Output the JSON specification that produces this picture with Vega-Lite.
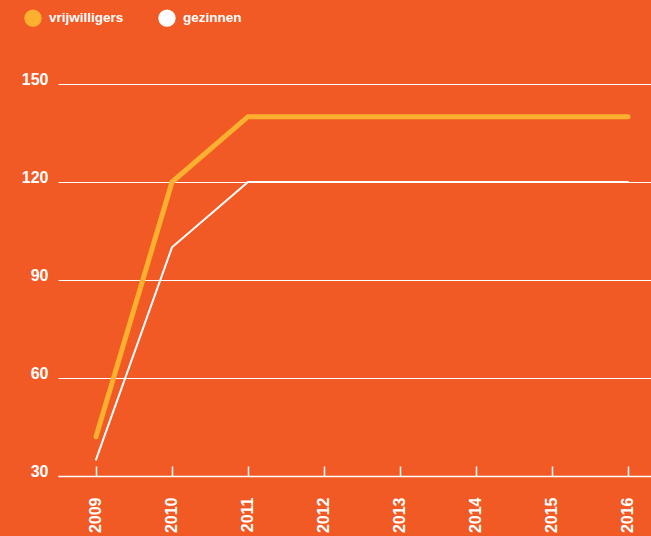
{
  "$schema": "https://vega.github.io/schema/vega-lite/v6.json",
  "width": 593,
  "height": 392,
  "autosize": "none",
  "padding": {"left": 58, "top": 84, "right": 0, "bottom": 60},
  "background": "#F15A24",
  "config": {
    "view": {"stroke": null},
    "font": "Liberation Sans",
    "axis": {"labelFont": "Liberation Sans", "labelColor": "#FFFFFF", "labelFontSize": 16, "labelFontWeight": "bold"}
  },
  "data": {
    "values": [
      {"year": 2009, "series": "gezinnen", "value": 35},
      {"year": 2010, "series": "gezinnen", "value": 100},
      {"year": 2011, "series": "gezinnen", "value": 120},
      {"year": 2012, "series": "gezinnen", "value": 120},
      {"year": 2013, "series": "gezinnen", "value": 120},
      {"year": 2014, "series": "gezinnen", "value": 120},
      {"year": 2015, "series": "gezinnen", "value": 120},
      {"year": 2016, "series": "gezinnen", "value": 120},
      {"year": 2009, "series": "vrijwilligers", "value": 42},
      {"year": 2010, "series": "vrijwilligers", "value": 120},
      {"year": 2011, "series": "vrijwilligers", "value": 140},
      {"year": 2012, "series": "vrijwilligers", "value": 140},
      {"year": 2013, "series": "vrijwilligers", "value": 140},
      {"year": 2014, "series": "vrijwilligers", "value": 140},
      {"year": 2015, "series": "vrijwilligers", "value": 140},
      {"year": 2016, "series": "vrijwilligers", "value": 140}
    ]
  },
  "encoding": {
    "x": {
      "field": "year", "type": "quantitative",
      "scale": {"domain": [2008.5, 2016.303], "nice": false, "zero": false},
      "axis": {
        "title": null, "values": [2009, 2010, 2011, 2012, 2013, 2014, 2015, 2016],
        "format": "d", "labelAngle": -90, "grid": false,
        "domainColor": "#FFFFFF", "domainWidth": 1.5,
        "tickColor": "#FFFFFF", "tickWidth": 1.5, "tickSize": -10,
        "labelPadding": 31, "labelFontSize": 16
      }
    },
    "y": {
      "field": "value", "type": "quantitative",
      "scale": {"domain": [30, 150], "nice": false, "zero": false},
      "axis": {
        "title": null, "values": [30, 60, 90, 120, 150],
        "domain": false, "ticks": false, "grid": true,
        "gridColor": "#FFFFFF", "gridWidth": 1, "gridOpacity": 1,
        "labelBaseline": "alphabetic", "labelPadding": 10
      }
    },
    "color": {
      "field": "series", "type": "nominal",
      "scale": {"domain": ["vrijwilligers", "gezinnen"], "range": ["#FBB12F", "#FFFFFF"]},
      "legend": {
        "title": null, "orient": "none", "legendX": -34, "legendY": -75,
        "direction": "horizontal", "symbolType": "circle", "symbolSize": 300,
        "symbolStrokeWidth": 0, "labelColor": "#FFFFFF", "labelFontSize": 13.5,
        "labelFontWeight": "bold", "labelFont": "Liberation Sans", "labelOffset": 7,
        "columnPadding": 34,
        "encode": {"symbols": {"update": {"fill": {"scale": "color", "field": "value"}, "opacity": {"value": 1}, "strokeWidth": {"value": 0}, "stroke": {"value": "transparent"}, "size": {"value": 300}}}}
      }
    },
    "order": {"field": "year"}
  },
  "layer": [
    {
      "transform": [{"filter": "datum.series === 'gezinnen'"}],
      "mark": {"type": "line", "strokeCap": "round", "strokeWidth": 2}
    },
    {
      "transform": [{"filter": "datum.series === 'vrijwilligers'"}],
      "mark": {"type": "line", "strokeCap": "round", "strokeWidth": 5}
    }
  ]
}
